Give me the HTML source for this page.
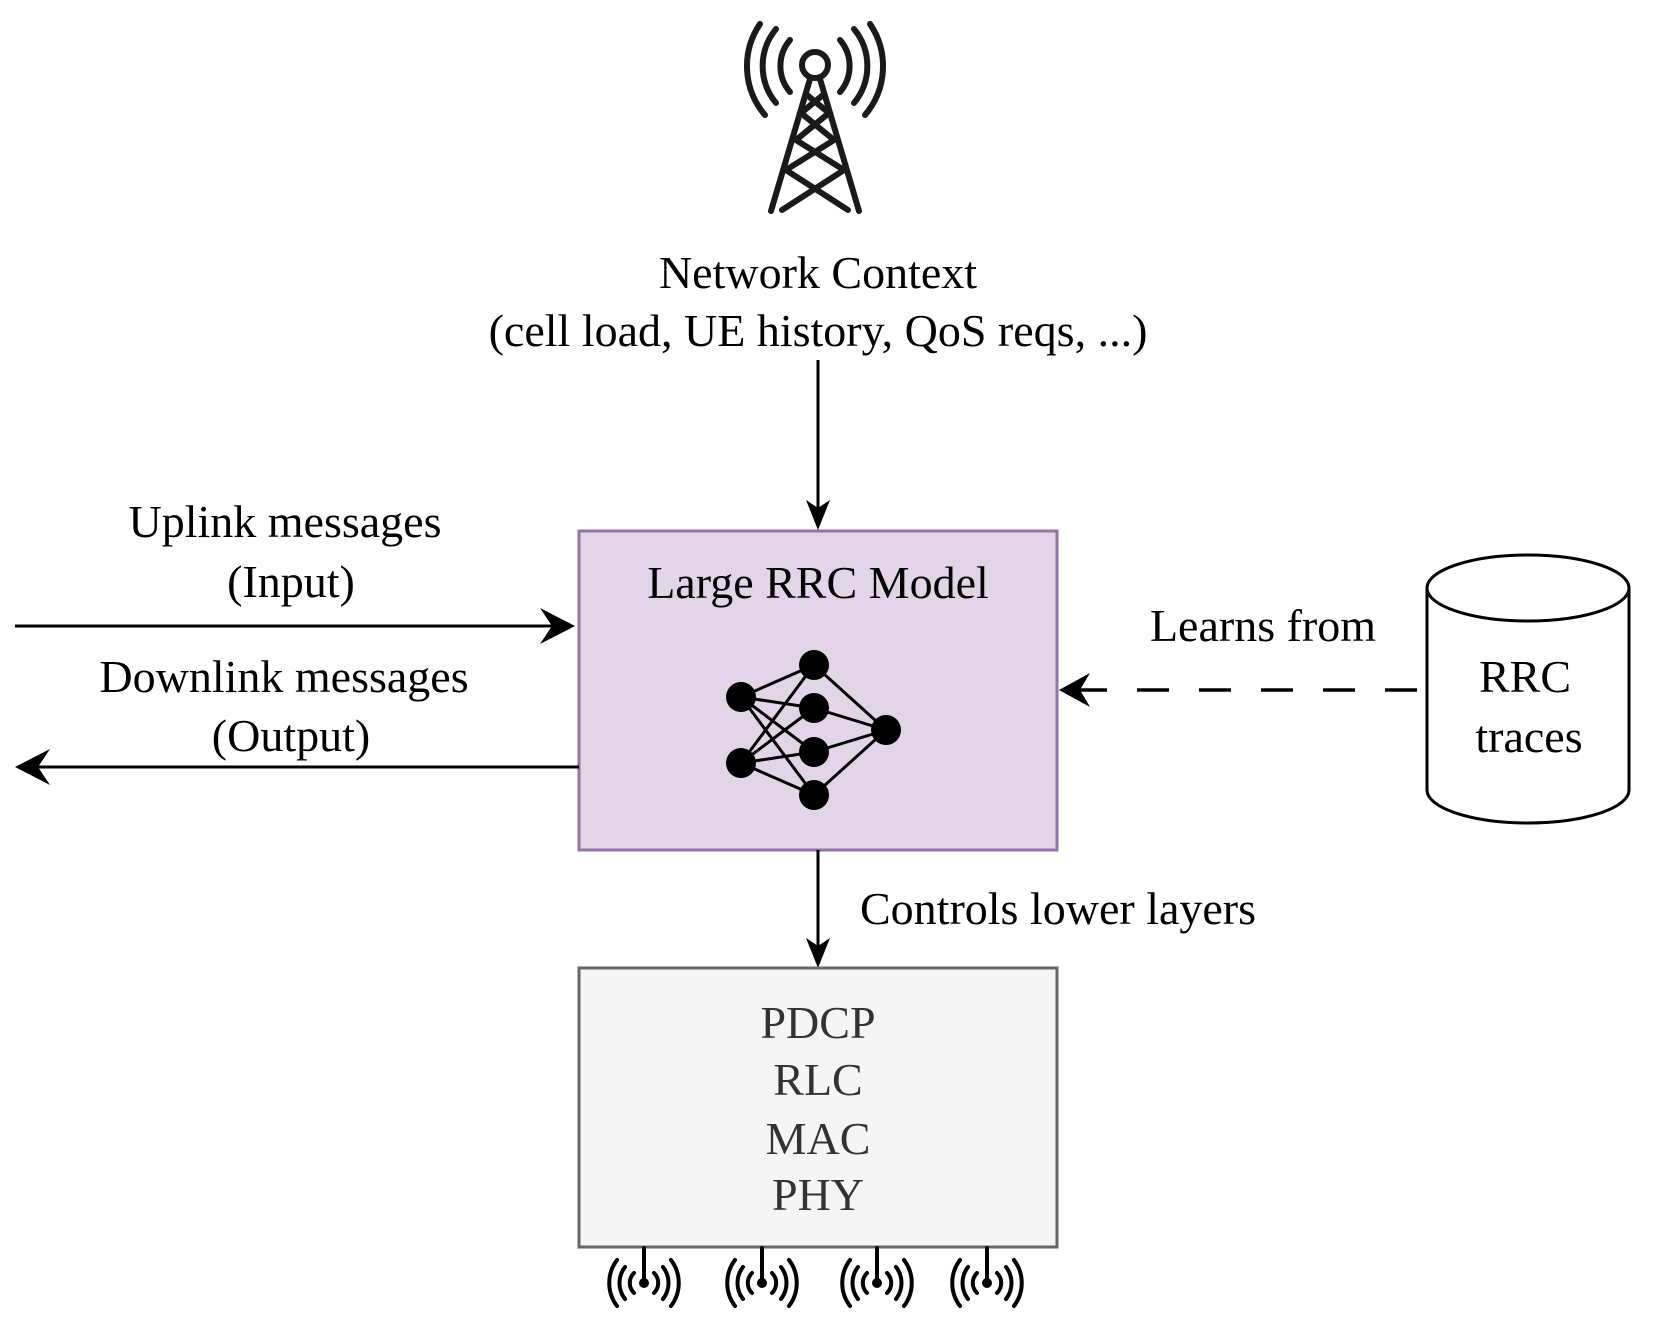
<!DOCTYPE html>
<html><head><meta charset="utf-8"><style>
html,body{margin:0;padding:0;background:#fff}
svg{display:block}
text{font-family:"Liberation Serif",serif;font-size:46px;fill:#000}
</style></head><body>
<svg width="1661" height="1338" viewBox="0 0 1661 1338" xmlns="http://www.w3.org/2000/svg">
<!-- tower -->
<g fill="none" stroke="#1a1a1a" stroke-width="6" stroke-linecap="round">
<circle cx="815" cy="65" r="13"/>
<path d="M790 40 A40 40 0 0 0 790 92"/>
<path d="M840 40 A40 40 0 0 1 840 92"/>
<path d="M776 29 A58 58 0 0 0 776 103"/>
<path d="M854 29 A58 58 0 0 1 854 103"/>
<path d="M760 24 A75 75 0 0 0 765 115"/>
<path d="M870 24 A75 75 0 0 1 865 115"/>
<path d="M810 79 L771 211 M820 79 L859 211"/>
<path d="M807 95 L829 113 L796 140 L844 170 L782 210 M823 95 L801 113 L834 140 L786 170 L848 210"/>
</g>
<text x="818" y="288" text-anchor="middle">Network Context</text>
<text x="818" y="346" text-anchor="middle">(cell load, UE history, QoS reqs, ...)</text>
<line x1="818" y1="360" x2="818" y2="510" stroke="#000" stroke-width="3"/>
<path d="M818 530 L806 500 L818 508 L830 500 Z" fill="#000"/>
<rect x="579" y="531" width="478" height="319" fill="#e1d5e7" stroke="#9673a6" stroke-width="3"/>
<text x="818" y="598" text-anchor="middle">Large RRC Model</text>
<g stroke="#000" stroke-width="3">
<line x1="741" y1="697" x2="814" y2="665"/><line x1="741" y1="697" x2="814" y2="708"/><line x1="741" y1="697" x2="814" y2="752"/><line x1="741" y1="697" x2="814" y2="795"/>
<line x1="741" y1="763" x2="814" y2="665"/><line x1="741" y1="763" x2="814" y2="708"/><line x1="741" y1="763" x2="814" y2="752"/><line x1="741" y1="763" x2="814" y2="795"/>
<line x1="886" y1="730" x2="814" y2="665"/><line x1="886" y1="730" x2="814" y2="708"/><line x1="886" y1="730" x2="814" y2="752"/><line x1="886" y1="730" x2="814" y2="795"/>
</g>
<g fill="#000">
<circle cx="741" cy="697" r="15"/><circle cx="741" cy="763" r="15"/>
<circle cx="814" cy="665" r="15"/><circle cx="814" cy="708" r="15"/><circle cx="814" cy="752" r="15"/><circle cx="814" cy="795" r="15"/>
<circle cx="886" cy="730" r="15"/>
</g>
<text x="285" y="537" text-anchor="middle">Uplink messages</text>
<text x="291" y="597" text-anchor="middle">(Input)</text>
<line x1="15" y1="626" x2="560" y2="626" stroke="#000" stroke-width="3"/>
<path d="M575 626 L540 608 L552 626 L540 644 Z" fill="#000"/>
<text x="284" y="692" text-anchor="middle">Downlink messages</text>
<text x="291" y="751" text-anchor="middle">(Output)</text>
<line x1="30" y1="767" x2="579" y2="767" stroke="#000" stroke-width="3"/>
<path d="M15 767 L50 749 L38 767 L50 785 Z" fill="#000"/>
<text x="1263" y="641" text-anchor="middle">Learns from</text>
<line x1="1075" y1="690" x2="1428" y2="690" stroke="#000" stroke-width="3.5" stroke-dasharray="32,30"/>
<path d="M1059 690 L1090 673 L1080 690 L1090 707 Z" fill="#000"/>
<path d="M1427 588 L1427 790 A101 33 0 0 0 1629 790 L1629 588" fill="#fff" stroke="#000" stroke-width="3"/>
<ellipse cx="1528" cy="588" rx="101" ry="33" fill="#fff" stroke="#000" stroke-width="3"/>
<text x="1525" y="692" text-anchor="middle">RRC</text>
<text x="1529" y="752" text-anchor="middle">traces</text>
<line x1="818" y1="850" x2="818" y2="950" stroke="#000" stroke-width="3"/>
<path d="M818 968 L806 938 L818 946 L830 938 Z" fill="#000"/>
<text x="860" y="924">Controls lower layers</text>
<rect x="579" y="968" width="478" height="279" fill="#f5f5f5" stroke="#666" stroke-width="3"/>
<g text-anchor="middle">
<text x="818" y="1038" style="fill:#333">PDCP</text>
<text x="818" y="1095" style="fill:#333">RLC</text>
<text x="818" y="1154" style="fill:#333">MAC</text>
<text x="818" y="1210" style="fill:#333">PHY</text>
</g>
<g fill="none" stroke="#000" stroke-width="4" stroke-linecap="round">
<g id="a1" transform="translate(644,0)">
<line x1="0" y1="1248" x2="0" y2="1283"/>
<path d="M-10 1273 A14 14 0 0 0 -10 1293"/><path d="M10 1273 A14 14 0 0 1 10 1293"/>
<path d="M-19 1267 A26 26 0 0 0 -19 1299"/><path d="M19 1267 A26 26 0 0 1 19 1299"/>
<path d="M-27 1260 A38 38 0 0 0 -27 1306"/><path d="M27 1260 A38 38 0 0 1 27 1306"/>
</g>
<use href="#a1" transform="translate(118,0)"/>
<use href="#a1" transform="translate(233,0)"/>
<use href="#a1" transform="translate(343,0)"/>
</g>
<g fill="#000">
<circle cx="644" cy="1283" r="5"/><circle cx="762" cy="1283" r="5"/><circle cx="877" cy="1283" r="5"/><circle cx="987" cy="1283" r="5"/>
</g>
</svg>
</body></html>
